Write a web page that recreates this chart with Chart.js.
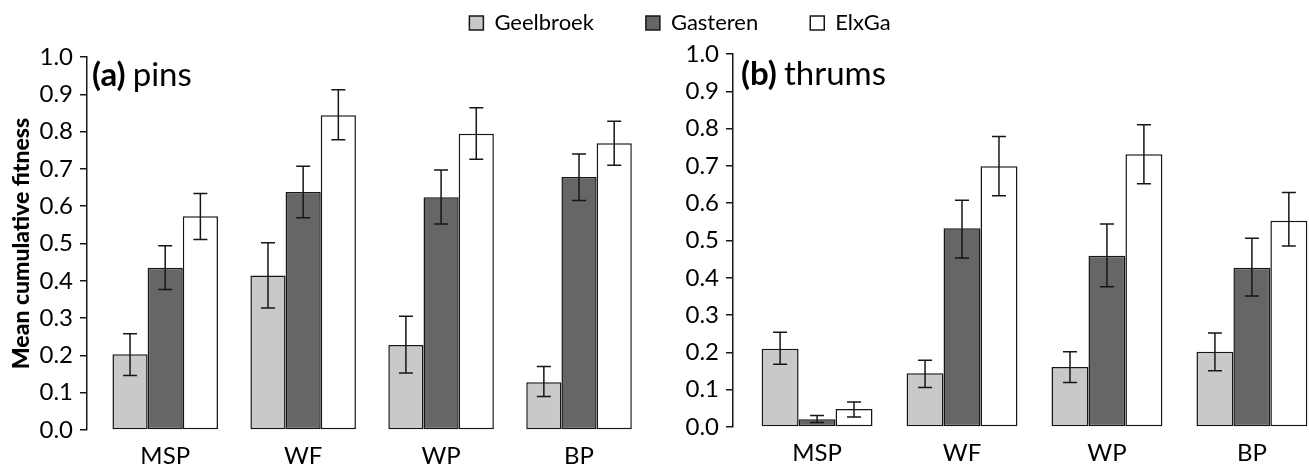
<!DOCTYPE html>
<html>
<head>
<meta charset="utf-8">
<script src="https://cdn.jsdelivr.net/npm/chart.js@4.4.1/dist/chart.umd.min.js"></script>
<style>
  body { margin: 0; background: #fff; }
  #wrap { position: relative; width: 1309px; height: 468px; overflow: hidden; background: #fff; }
  canvas { position: absolute; }
</style>
</head>
<body>
<div id="wrap">
  <canvas id="pins" width="655" height="468" style="left:0;top:0"></canvas>
  <canvas id="thrums" width="654" height="468" style="left:655px;top:0"></canvas>
  <canvas id="legend" width="1309" height="240" style="left:0;top:-40px"></canvas>
</div>
<script>
// categories and series
const sites = ['MSP', 'WF', 'WP', 'BP'];
const seriesNames = ['Geelbroek', 'Gasteren', 'ElxGa'];

// (a) pins: means and error bar ends
const pinsGeelbroek = [0.203, 0.414, 0.228, 0.128];
const pinsGeelbroekLow = [0.146, 0.327, 0.153, 0.090];
const pinsGeelbroekHigh = [0.258, 0.502, 0.305, 0.170];
const pinsGasteren = [0.435, 0.638, 0.624, 0.678];
const pinsGasterenLow = [0.377, 0.569, 0.552, 0.615];
const pinsGasterenHigh = [0.494, 0.707, 0.697, 0.740];
const pinsElxGa = [0.573, 0.844, 0.794, 0.769];
const pinsElxGaLow = [0.511, 0.778, 0.726, 0.710];
const pinsElxGaHigh = [0.634, 0.912, 0.864, 0.828];

// (b) thrums
const thrumsGeelbroek = [0.210, 0.144, 0.161, 0.202];
const thrumsGeelbroekLow = [0.168, 0.106, 0.119, 0.151];
const thrumsGeelbroekHigh = [0.254, 0.179, 0.202, 0.252];
const thrumsGasteren = [0.021, 0.533, 0.459, 0.427];
const thrumsGasterenLow = [0.012, 0.453, 0.376, 0.351];
const thrumsGasterenHigh = [0.031, 0.608, 0.544, 0.506];
const thrumsElxGa = [0.048, 0.699, 0.731, 0.553];
const thrumsElxGaLow = [0.027, 0.620, 0.652, 0.485];
const thrumsElxGaHigh = [0.067, 0.779, 0.810, 0.629];

const fills = ['#c9c9c9', '#666666', '#ffffff'];
const ink = '#161616';

Chart.defaults.font.family = 'Lato';
Chart.defaults.color = '#000';

// error bars drawn from the y scale
const errorBars = {
   id: 'errorBars',
   afterDatasetsDraw(chart) {
      const ctx = chart.ctx;
      const y = chart.scales.y;
      ctx.save();
      ctx.strokeStyle = ink;
      ctx.lineWidth = 1.5;
      chart.data.datasets.forEach((ds, i) => {
         chart.getDatasetMeta(i).data.forEach((bar, j) => {
            const top = y.getPixelForValue(ds.errHigh[j]);
            const bot = y.getPixelForValue(ds.errLow[j]);
            ctx.beginPath();
            ctx.moveTo(bar.x, top); ctx.lineTo(bar.x, bot);
            ctx.moveTo(bar.x - 7, top); ctx.lineTo(bar.x + 7, top);
            ctx.moveTo(bar.x - 7, bot); ctx.lineTo(bar.x + 7, bot);
            ctx.stroke();
         });
      });
      ctx.restore();
   }
};

// "(a) pins" style label, bold tag + normal word
const panelLabel = {
   id: 'panelLabel',
   afterDraw(chart, args, opts) {
      const ctx = chart.ctx;
      const x = chart.chartArea.left + opts.dx;
      ctx.save();
      ctx.fillStyle = '#000';
      ctx.textBaseline = 'alphabetic';
      ctx.font = 'bold 33px Lato';
      ctx.fillText(opts.tag, x, opts.baseline);
      const w = ctx.measureText(opts.tag).width + 7;
      ctx.font = '33px Lato';
      ctx.fillText(opts.word, x + w, opts.baseline);
      ctx.restore();
   }
};

function makePanel(id, values, lows, highs, cfg) {
   const datasets = seriesNames.map((name, i) => ({
      label: name,
      data: values[i].map((v, j) => ({ x: j, y: v })),
      errLow: lows[i],
      errHigh: highs[i],
      backgroundColor: fills[i],
      borderColor: ink,
      borderWidth: 1.5,
      borderSkipped: false,
      barPercentage: 1,
      categoryPercentage: 0.765
   }));

   new Chart(document.getElementById(id), {
      type: 'bar',
      data: { datasets: datasets },
      plugins: [errorBars, panelLabel],
      options: {
         responsive: false,
         animation: false,
         events: [],
         layout: { padding: { top: cfg.top, right: cfg.right, left: 0, bottom: 0 } },
         scales: {
            x: {
               type: 'linear',
               offset: false,
               min: cfg.xMin,
               max: cfg.xMax,
               afterFit: s => { s.height = cfg.xHeight; },
               border: { display: false },
               grid: { display: false, drawTicks: false },
               ticks: {
                  stepSize: 1,
                  includeBounds: false,
                  autoSkip: false,
                  maxRotation: 0,
                  padding: 12,
                  font: { size: 24 },
                  callback: v => Number.isInteger(v) && sites[v] ? sites[v] : ''
               }
            },
            y: {
               min: 0,
               max: 1,
               afterFit: s => { s.width = cfg.yWidth; },
               border: { display: true, color: ink, width: 1.5 },
               grid: { drawOnChartArea: false, drawTicks: true, tickLength: 7, color: ink, lineWidth: 1.5 },
               ticks: {
                  stepSize: 0.1,
                  padding: 7,
                  font: { size: 24 },
                  callback: v => v.toFixed(1)
               },
               title: {
                  display: !!cfg.yTitle,
                  text: cfg.yTitle,
                  font: { size: 23, weight: 900 },
                  padding: { top: 8, bottom: 0 }
               }
            }
         },
         plugins: {
            legend: { display: false },
            tooltip: { enabled: false },
            panelLabel: { tag: cfg.tag, word: cfg.word, dx: cfg.labelDx, baseline: cfg.baseline }
         }
      }
   });
}

makePanel('pins',
   [pinsGeelbroek, pinsGasteren, pinsElxGa],
   [pinsGeelbroekLow, pinsGasterenLow, pinsElxGaLow],
   [pinsGeelbroekHigh, pinsGasterenHigh, pinsElxGaHigh],
   { top: 57, right: 7, xHeight: 38, yWidth: 87, xMin: -0.567, xMax: 3.5,
     yTitle: 'Mean cumulative fitness', tag: '(a)', word: 'pins', labelDx: 5, baseline: 86 });

makePanel('thrums',
   [thrumsGeelbroek, thrumsGasteren, thrumsElxGa],
   [thrumsGeelbroekLow, thrumsGasterenLow, thrumsElxGaLow],
   [thrumsGeelbroekHigh, thrumsGasterenHigh, thrumsElxGaHigh],
   { top: 54, right: 0, xHeight: 41, yWidth: 78, xMin: -0.58, xMax: 3.394,
     yTitle: '', tag: '(b)', word: 'thrums', labelDx: 8, baseline: 85 });

// shared legend across both panels
new Chart(document.getElementById('legend'), {
   type: 'bar',
   data: {
      datasets: seriesNames.map((name, i) => ({
         label: name, data: [], backgroundColor: fills[i], borderColor: ink, borderWidth: 1.5
      }))
   },
   options: {
      responsive: false,
      animation: false,
      events: [],
      layout: { padding: { left: 51 } },
      scales: { x: { display: false }, y: { display: false } },
      plugins: {
         tooltip: { enabled: false },
         legend: {
            labels: { boxWidth: 14, boxHeight: 14, padding: 52, font: { size: 22 } }
         }
      }
   }
});
</script>
</body>
</html>
